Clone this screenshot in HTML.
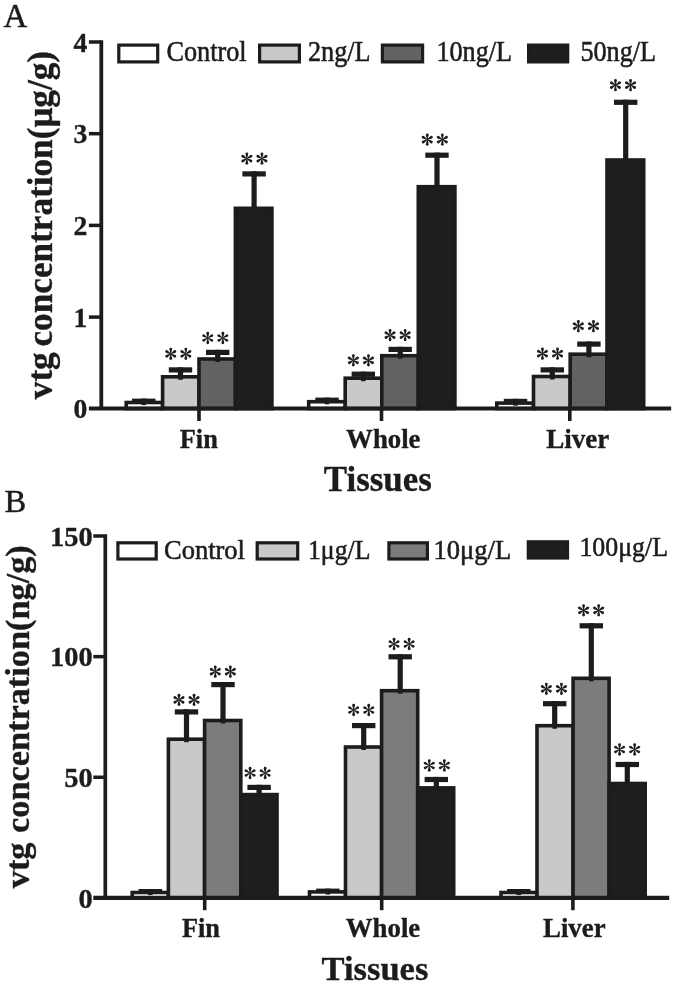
<!DOCTYPE html>
<html><head><meta charset="utf-8"><title>vtg concentration</title>
<style>
html,body{margin:0;padding:0;background:#fff;}
body{width:675px;height:985px;overflow:hidden;font-family:"Liberation Serif",serif;}
svg{display:block;filter:grayscale(1) blur(0.45px);}
text{font-family:"Liberation Serif",serif;fill:#1c1c1c;}
.b{font-weight:bold;stroke:#1c1c1c;stroke-width:0.35px;}
.r{font-weight:normal;stroke:#1c1c1c;stroke-width:0.5px;}
</style></head>
<body>
<svg width="675" height="985" viewBox="0 0 675 985">
<defs>
<path id="petal" d="M-0.4 -0.5L-1.42 -4.72A1.42 1.42 0 0 1 1.42 -4.72L0.4 -0.5Z"/>
<g id="ast" fill="#1c1c1c">
<use href="#petal"/><use href="#petal" transform="rotate(60)"/><use href="#petal" transform="rotate(120)"/>
<use href="#petal" transform="rotate(180)"/><use href="#petal" transform="rotate(240)"/><use href="#petal" transform="rotate(300)"/>
<circle r="0.9"/>
</g>
</defs>
<rect width="675" height="985" fill="#ffffff"/>
<!-- Panel A -->
<text x="3.6" y="26.7" font-size="33" class="r">A</text>
<rect x="132.10" y="398.60" width="23.4" height="5.2" fill="#1c1c1c"/><rect x="141.20" y="398.60" width="5.2" height="5.10" fill="#1c1c1c"/>
<rect x="168.80" y="367.30" width="23.4" height="5.2" fill="#1c1c1c"/><rect x="177.90" y="367.30" width="5.2" height="10.70" fill="#1c1c1c"/>
<rect x="206.00" y="349.80" width="23.4" height="5.2" fill="#1c1c1c"/><rect x="215.10" y="349.80" width="5.2" height="10.40" fill="#1c1c1c"/>
<rect x="242.40" y="171.30" width="23.4" height="5.2" fill="#1c1c1c"/><rect x="251.50" y="171.30" width="5.2" height="38.20" fill="#1c1c1c"/>
<rect x="315.30" y="397.60" width="23.4" height="5.2" fill="#1c1c1c"/><rect x="324.40" y="397.60" width="5.2" height="5.30" fill="#1c1c1c"/>
<rect x="351.60" y="371.60" width="23.4" height="5.2" fill="#1c1c1c"/><rect x="360.70" y="371.60" width="5.2" height="7.80" fill="#1c1c1c"/>
<rect x="388.50" y="346.80" width="23.4" height="5.2" fill="#1c1c1c"/><rect x="397.60" y="346.80" width="5.2" height="10.10" fill="#1c1c1c"/>
<rect x="425.30" y="152.60" width="23.4" height="5.2" fill="#1c1c1c"/><rect x="434.40" y="152.60" width="5.2" height="35.30" fill="#1c1c1c"/>
<rect x="503.80" y="398.80" width="23.4" height="5.2" fill="#1c1c1c"/><rect x="512.90" y="398.80" width="5.2" height="5.50" fill="#1c1c1c"/>
<rect x="540.60" y="367.30" width="23.4" height="5.2" fill="#1c1c1c"/><rect x="549.70" y="367.30" width="5.2" height="10.40" fill="#1c1c1c"/>
<rect x="577.20" y="341.50" width="23.4" height="5.2" fill="#1c1c1c"/><rect x="586.30" y="341.50" width="5.2" height="13.90" fill="#1c1c1c"/>
<rect x="614.00" y="99.70" width="23.4" height="5.2" fill="#1c1c1c"/><rect x="623.10" y="99.70" width="5.2" height="61.50" fill="#1c1c1c"/>
<rect x="126.20" y="402.50" width="36.40" height="6.10" fill="#ffffff" stroke="#1c1c1c" stroke-width="3.6"/>
<rect x="162.60" y="376.80" width="36.40" height="31.80" fill="#c9c9c9" stroke="#1c1c1c" stroke-width="3.6"/>
<rect x="199.00" y="359.00" width="36.40" height="49.60" fill="#626262" stroke="#1c1c1c" stroke-width="3.6"/>
<rect x="235.40" y="208.30" width="36.50" height="200.30" fill="#1e1e1e" stroke="#1c1c1c" stroke-width="3.6"/>
<rect x="308.70" y="401.70" width="36.50" height="6.90" fill="#ffffff" stroke="#1c1c1c" stroke-width="3.6"/>
<rect x="345.20" y="378.20" width="36.60" height="30.40" fill="#c9c9c9" stroke="#1c1c1c" stroke-width="3.6"/>
<rect x="381.80" y="355.70" width="36.50" height="52.90" fill="#626262" stroke="#1c1c1c" stroke-width="3.6"/>
<rect x="418.30" y="186.70" width="36.60" height="221.90" fill="#1e1e1e" stroke="#1c1c1c" stroke-width="3.6"/>
<rect x="496.80" y="403.10" width="36.70" height="5.50" fill="#ffffff" stroke="#1c1c1c" stroke-width="3.6"/>
<rect x="533.50" y="376.50" width="36.70" height="32.10" fill="#c9c9c9" stroke="#1c1c1c" stroke-width="3.6"/>
<rect x="570.20" y="354.20" width="36.80" height="54.40" fill="#626262" stroke="#1c1c1c" stroke-width="3.6"/>
<rect x="607.00" y="160.00" width="36.70" height="248.60" fill="#1e1e1e" stroke="#1c1c1c" stroke-width="3.6"/>
<rect x="141.50" y="402.70" width="4.6" height="2.4" fill="#1c1c1c"/>
<rect x="178.20" y="377.00" width="4.6" height="2.8" fill="#1c1c1c"/>
<rect x="215.40" y="359.20" width="4.6" height="2.8" fill="#1c1c1c"/>
<rect x="324.70" y="401.90" width="4.6" height="2.4" fill="#1c1c1c"/>
<rect x="361.00" y="378.40" width="4.6" height="2.8" fill="#1c1c1c"/>
<rect x="397.90" y="355.90" width="4.6" height="2.8" fill="#1c1c1c"/>
<rect x="513.20" y="403.30" width="4.6" height="2.4" fill="#1c1c1c"/>
<rect x="550.00" y="376.70" width="4.6" height="2.8" fill="#1c1c1c"/>
<rect x="586.60" y="354.40" width="4.6" height="2.8" fill="#1c1c1c"/>
<use href="#ast" x="170.75" y="353.80"/><use href="#ast" x="185.85" y="353.80"/>
<use href="#ast" x="207.75" y="338.00"/><use href="#ast" x="222.85" y="338.00"/>
<use href="#ast" x="246.85" y="158.60"/><use href="#ast" x="261.95" y="158.60"/>
<use href="#ast" x="353.35" y="360.30"/><use href="#ast" x="368.45" y="360.30"/>
<use href="#ast" x="390.05" y="335.10"/><use href="#ast" x="405.15" y="335.10"/>
<use href="#ast" x="427.25" y="139.60"/><use href="#ast" x="442.35" y="139.60"/>
<use href="#ast" x="542.45" y="353.70"/><use href="#ast" x="557.55" y="353.70"/>
<use href="#ast" x="578.35" y="326.20"/><use href="#ast" x="593.45" y="326.20"/>
<use href="#ast" x="615.45" y="85.20"/><use href="#ast" x="630.55" y="85.20"/>
<path d="M101.3 40.3V408.6" stroke="#1c1c1c" stroke-width="3.8" fill="none"/>
<path d="M88.9 408.6H671.2" stroke="#1c1c1c" stroke-width="4.0" fill="none"/>
<path d="M88.9 42.00H101" stroke="#1c1c1c" stroke-width="3.5"/>
<text transform="translate(87.2 51.60) scale(1.05 1.07)" font-size="26.3" text-anchor="end" class="b">4</text>
<path d="M88.9 133.70H101" stroke="#1c1c1c" stroke-width="3.5"/>
<text transform="translate(87.2 143.30) scale(1.05 1.07)" font-size="26.3" text-anchor="end" class="b">3</text>
<path d="M88.9 225.40H101" stroke="#1c1c1c" stroke-width="3.5"/>
<text transform="translate(87.2 235.00) scale(1.05 1.07)" font-size="26.3" text-anchor="end" class="b">2</text>
<path d="M88.9 317.10H101" stroke="#1c1c1c" stroke-width="3.5"/>
<text transform="translate(87.2 326.70) scale(1.05 1.07)" font-size="26.3" text-anchor="end" class="b">1</text>
<text transform="translate(87.2 418.40) scale(1.05 1.07)" font-size="26.3" text-anchor="end" class="b">0</text>
<path d="M199.0 408.6V421" stroke="#1c1c1c" stroke-width="3.6"/>
<text x="198.80" y="447.6" font-size="26.3" text-anchor="middle" class="b">Fin</text>
<path d="M381.5 408.6V421" stroke="#1c1c1c" stroke-width="3.6"/>
<text x="383.30" y="447.6" font-size="26.8" text-anchor="middle" class="b">Whole</text>
<path d="M569.8 408.6V421" stroke="#1c1c1c" stroke-width="3.6"/>
<text x="577.80" y="447.6" font-size="27.1" text-anchor="middle" class="b">Liver</text>
<text x="377.8" y="491" font-size="34.9" text-anchor="middle" class="b">Tissues</text>
<text transform="translate(51.9 399.2) rotate(-90)" font-size="35.2" word-spacing="-3" class="b">vtg concentration(μg/g)</text>
<rect x="118.80" y="45.10" width="38.90" height="16.80" fill="#ffffff" stroke="#1c1c1c" stroke-width="3.2"/>
<text transform="translate(166.50 61.30) scale(1.0 1.1)" font-size="26.2" class="r">Control</text>
<rect x="259.60" y="45.10" width="39.80" height="16.80" fill="#c9c9c9" stroke="#1c1c1c" stroke-width="3.2"/>
<text transform="translate(308.00 61.30) scale(1.0 1.1)" font-size="26.2" class="r">2ng/L</text>
<rect x="382.40" y="45.10" width="40.20" height="16.80" fill="#626262" stroke="#1c1c1c" stroke-width="3.2"/>
<text transform="translate(436.40 61.30) scale(1.0 1.1)" font-size="26.2" class="r">10ng/L</text>
<rect x="528.60" y="45.10" width="39.10" height="16.80" fill="#1e1e1e" stroke="#1c1c1c" stroke-width="3.2"/>
<text transform="translate(580.40 61.30) scale(1.0 1.1)" font-size="26.2" class="r">50ng/L</text>
<!-- Panel B -->
<text x="4.4" y="512.4" font-size="32.5" class="r">B</text>
<rect x="138.60" y="889.00" width="23.4" height="5.2" fill="#1c1c1c"/><rect x="147.70" y="889.00" width="5.2" height="4.70" fill="#1c1c1c"/>
<rect x="174.80" y="709.30" width="23.4" height="5.2" fill="#1c1c1c"/><rect x="183.90" y="709.30" width="5.2" height="31.10" fill="#1c1c1c"/>
<rect x="211.30" y="682.00" width="23.4" height="5.2" fill="#1c1c1c"/><rect x="220.40" y="682.00" width="5.2" height="39.70" fill="#1c1c1c"/>
<rect x="247.40" y="784.80" width="23.4" height="5.2" fill="#1c1c1c"/><rect x="256.50" y="784.80" width="5.2" height="11.00" fill="#1c1c1c"/>
<rect x="316.20" y="888.60" width="23.4" height="5.2" fill="#1c1c1c"/><rect x="325.30" y="888.60" width="5.2" height="4.50" fill="#1c1c1c"/>
<rect x="352.00" y="723.00" width="23.4" height="5.2" fill="#1c1c1c"/><rect x="361.10" y="723.00" width="5.2" height="25.20" fill="#1c1c1c"/>
<rect x="388.50" y="654.20" width="23.4" height="5.2" fill="#1c1c1c"/><rect x="397.60" y="654.20" width="5.2" height="37.70" fill="#1c1c1c"/>
<rect x="424.60" y="776.90" width="23.4" height="5.2" fill="#1c1c1c"/><rect x="433.70" y="776.90" width="5.2" height="12.20" fill="#1c1c1c"/>
<rect x="507.10" y="889.00" width="23.4" height="5.2" fill="#1c1c1c"/><rect x="516.20" y="889.00" width="5.2" height="4.70" fill="#1c1c1c"/>
<rect x="543.00" y="701.10" width="23.4" height="5.2" fill="#1c1c1c"/><rect x="552.10" y="701.10" width="5.2" height="25.80" fill="#1c1c1c"/>
<rect x="579.60" y="623.20" width="23.4" height="5.2" fill="#1c1c1c"/><rect x="588.70" y="623.20" width="5.2" height="56.30" fill="#1c1c1c"/>
<rect x="615.60" y="761.90" width="23.4" height="5.2" fill="#1c1c1c"/><rect x="624.70" y="761.90" width="5.2" height="22.80" fill="#1c1c1c"/>
<rect x="132.20" y="892.50" width="36.20" height="5.40" fill="#ffffff" stroke="#1c1c1c" stroke-width="3.6"/>
<rect x="168.40" y="739.20" width="36.20" height="158.70" fill="#c9c9c9" stroke="#1c1c1c" stroke-width="3.6"/>
<rect x="204.60" y="720.50" width="36.20" height="177.40" fill="#7c7c7c" stroke="#1c1c1c" stroke-width="3.6"/>
<rect x="240.80" y="794.60" width="36.20" height="103.30" fill="#1e1e1e" stroke="#1c1c1c" stroke-width="3.6"/>
<rect x="309.50" y="891.90" width="36.00" height="6.00" fill="#ffffff" stroke="#1c1c1c" stroke-width="3.6"/>
<rect x="345.50" y="747.00" width="36.10" height="150.90" fill="#c9c9c9" stroke="#1c1c1c" stroke-width="3.6"/>
<rect x="381.60" y="690.70" width="36.10" height="207.20" fill="#7c7c7c" stroke="#1c1c1c" stroke-width="3.6"/>
<rect x="417.70" y="787.90" width="36.00" height="110.00" fill="#1e1e1e" stroke="#1c1c1c" stroke-width="3.6"/>
<rect x="501.00" y="892.50" width="36.00" height="5.40" fill="#ffffff" stroke="#1c1c1c" stroke-width="3.6"/>
<rect x="537.00" y="725.70" width="36.10" height="172.20" fill="#c9c9c9" stroke="#1c1c1c" stroke-width="3.6"/>
<rect x="573.10" y="678.30" width="36.00" height="219.60" fill="#7c7c7c" stroke="#1c1c1c" stroke-width="3.6"/>
<rect x="609.10" y="783.50" width="36.10" height="114.40" fill="#1e1e1e" stroke="#1c1c1c" stroke-width="3.6"/>
<rect x="148.00" y="892.70" width="4.6" height="2.4" fill="#1c1c1c"/>
<rect x="184.20" y="739.40" width="4.6" height="2.8" fill="#1c1c1c"/>
<rect x="220.70" y="720.70" width="4.6" height="2.8" fill="#1c1c1c"/>
<rect x="325.60" y="892.10" width="4.6" height="2.4" fill="#1c1c1c"/>
<rect x="361.40" y="747.20" width="4.6" height="2.8" fill="#1c1c1c"/>
<rect x="397.90" y="690.90" width="4.6" height="2.8" fill="#1c1c1c"/>
<rect x="516.50" y="892.70" width="4.6" height="2.4" fill="#1c1c1c"/>
<rect x="552.40" y="725.90" width="4.6" height="2.8" fill="#1c1c1c"/>
<rect x="589.00" y="678.50" width="4.6" height="2.8" fill="#1c1c1c"/>
<use href="#ast" x="178.95" y="699.90"/><use href="#ast" x="194.05" y="699.90"/>
<use href="#ast" x="215.25" y="671.70"/><use href="#ast" x="230.35" y="671.70"/>
<use href="#ast" x="250.05" y="773.00"/><use href="#ast" x="265.15" y="773.00"/>
<use href="#ast" x="353.65" y="710.00"/><use href="#ast" x="368.75" y="710.00"/>
<use href="#ast" x="394.05" y="644.00"/><use href="#ast" x="409.15" y="644.00"/>
<use href="#ast" x="429.25" y="765.50"/><use href="#ast" x="444.35" y="765.50"/>
<use href="#ast" x="546.35" y="688.80"/><use href="#ast" x="561.45" y="688.80"/>
<use href="#ast" x="583.55" y="610.30"/><use href="#ast" x="598.65" y="610.30"/>
<use href="#ast" x="619.55" y="749.50"/><use href="#ast" x="634.65" y="749.50"/>
<path d="M105.3 534.2V897.9" stroke="#1c1c1c" stroke-width="3.7" fill="none"/>
<path d="M93.3 897.9H669.2" stroke="#1c1c1c" stroke-width="4.1" fill="none"/>
<path d="M93.3 536.00H104.5" stroke="#1c1c1c" stroke-width="3.5"/>
<text transform="translate(92.6 545.70) scale(1.075 1.07)" font-size="26.4" text-anchor="end" class="b">150</text>
<path d="M93.3 656.63H104.5" stroke="#1c1c1c" stroke-width="3.5"/>
<text transform="translate(92.6 666.33) scale(1.075 1.07)" font-size="26.4" text-anchor="end" class="b">100</text>
<path d="M93.3 777.26H104.5" stroke="#1c1c1c" stroke-width="3.5"/>
<text transform="translate(92.6 786.96) scale(1.075 1.07)" font-size="26.4" text-anchor="end" class="b">50</text>
<text transform="translate(92.6 907.59) scale(1.075 1.07)" font-size="26.4" text-anchor="end" class="b">0</text>
<path d="M204.7 897.9V910.2" stroke="#1c1c1c" stroke-width="3.6"/>
<text x="200.90" y="937.3" font-size="26.3" text-anchor="middle" class="b">Fin</text>
<path d="M381.7 897.9V910.2" stroke="#1c1c1c" stroke-width="3.6"/>
<text x="383.00" y="937.3" font-size="26.8" text-anchor="middle" class="b">Whole</text>
<path d="M572.9 897.9V910.2" stroke="#1c1c1c" stroke-width="3.6"/>
<text x="574.30" y="937.3" font-size="26.8" text-anchor="middle" class="b">Liver</text>
<text x="375" y="979.7" font-size="34.5" text-anchor="middle" class="b">Tissues</text>
<text transform="translate(29.3 888.2) rotate(-90)" font-size="34.3" word-spacing="1" class="b">vtg concentration(ng/g)</text>
<rect x="117.90" y="542.80" width="38.30" height="16.20" fill="#ffffff" stroke="#1c1c1c" stroke-width="3.2"/>
<text transform="translate(164.00 558.90) scale(1.06 1.1)" font-size="25.0" class="r">Control</text>
<rect x="257.20" y="542.80" width="40.50" height="16.20" fill="#c9c9c9" stroke="#1c1c1c" stroke-width="3.2"/>
<text transform="translate(308.00 558.60) scale(1.03 1.1)" font-size="25.0" class="r">1μg/L</text>
<rect x="388.90" y="542.80" width="38.50" height="16.20" fill="#7c7c7c" stroke="#1c1c1c" stroke-width="3.2"/>
<text transform="translate(433.60 558.70) scale(1.06 1.1)" font-size="25.0" class="r">10μg/L</text>
<rect x="528.30" y="541.80" width="39.20" height="16.20" fill="#1e1e1e" stroke="#1c1c1c" stroke-width="3.2"/>
<text transform="translate(579.40 555.90) scale(1.035 1.1)" font-size="25.0" class="r">100μg/L</text>
</svg>
</body></html>
